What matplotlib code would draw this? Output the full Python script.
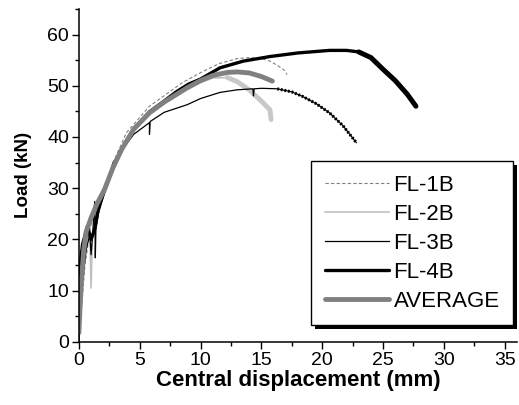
import numpy as np
import matplotlib
matplotlib.use("Agg")
import matplotlib.pyplot as plt
from matplotlib.patches import Rectangle
from matplotlib.transforms import IdentityTransform

plt.rcParams["font.family"] = ["Liberation Sans", "DejaVu Sans"]

# displacement (mm) / load (kN)
fl1b_x = [0, 0.5, 1.0, 1.5, 2.2, 3.0, 3.9, 5.8, 8.5, 10.2, 11.5, 13.0, 14.0, 15.0, 15.7, 16.3, 16.9, 17.1]
fl1b_y = [0, 15, 23, 27, 31, 36, 40.8, 46, 50.6, 52.8, 54.3, 55.3, 55.5, 55.3, 54.8, 54, 53, 52.2]

fl2b_x = [0, 0.3, 0.6, 0.9, 1.0, 1.1, 1.4, 2.0, 2.8, 3.5, 4.5, 5.8, 7.0, 8.9, 10.0, 11.0, 12.2, 13.0, 14.0, 15.0, 15.7, 15.8]
fl2b_y = [0, 12, 19, 22, 10.5, 20, 24, 29, 34, 37.5, 41.5, 44.5, 46.5, 49.3, 50.6, 51.5, 51.6, 50.8, 49.2, 47, 45.3, 43.4]

fl3b_x = [0, 0.3, 0.6, 0.9, 1.0, 1.1, 1.3, 1.35, 1.4, 1.6, 2.2, 2.8, 3.4, 4.5, 5.8, 5.8, 5.85, 7.0,
          8.9, 10.0, 11.6, 13.0, 14.3, 14.35, 14.4, 15.0, 16.3, 17.5, 18.4, 19.5, 20.6, 21.7, 22.8]
fl3b_y = [0, 12, 18, 21, 17, 20, 27.4, 16.4, 22, 25, 30, 35, 37, 40.5, 42.8, 40.5, 43, 44.8,
          46.3, 47.5, 48.7, 49.2, 49.4, 48.0, 49.4, 49.5, 49.4, 48.8, 47.9, 46.5, 44.7, 42.2, 38.9]

fl4b_x = [0, 0.3, 0.7, 1.0, 1.3, 1.6, 2.1, 2.8, 3.5, 4.5, 5.8, 7.0, 8.0, 9.0, 10.0, 11.6, 13.5,
          15.7, 18.0, 20.6, 22.0, 23.0, 24.0, 25.0, 26.0, 27.0, 27.7]
fl4b_y = [13, 19, 22.5, 20, 22, 26, 29.5, 34, 37.5, 41.5, 44.9, 47, 48.8, 50.3, 51.3, 53.5, 54.8,
          55.7, 56.4, 56.9, 56.9, 56.6, 55.5, 53.2, 51, 48.3, 46]

avg_x = [0, 0.1, 0.2, 0.4, 0.6, 1.0, 1.5, 2.1, 2.8, 3.5, 4.5, 5.8, 7.0, 8.9, 10.0, 11.0, 12.2,
         13.0, 14.0, 15.0, 15.9]
avg_y = [1.8, 7, 11.5, 18, 21.5, 24.2, 27, 29.7, 34, 37.5, 41.5, 44.7, 46.8, 49.6, 51, 52, 52.6,
         52.7, 52.5, 51.8, 50.9]

fig = plt.figure(figsize=(5.19, 4.05), dpi=100)
ax = fig.add_axes([0.152, 0.156, 0.844, 0.822])

l1, = ax.plot(fl1b_x, fl1b_y, color="#808080", lw=0.8, ls=(0, (3, 2)), label="FL-1B")
l2, = ax.plot(fl2b_x, fl2b_y, color="#c0c0c0", lw=1.2, label="FL-2B")
ax.plot(fl2b_x[16:], fl2b_y[16:], color="#c8c8c8", lw=3.5, solid_capstyle="round")
l3, = ax.plot(fl3b_x, fl3b_y, color="black", lw=0.9, label="FL-3B")
ax.plot(fl3b_x[26:], fl3b_y[26:], color="black", lw=2.2, ls=(0, (0.6, 0.6)))
l4, = ax.plot(fl4b_x, fl4b_y, color="black", lw=2.4, label="FL-4B",
              solid_capstyle="round", solid_joinstyle="round")
ax.plot(fl4b_x[21:], fl4b_y[21:], color="black", lw=3.6,
        solid_capstyle="round", solid_joinstyle="round")
l5, = ax.plot(avg_x, avg_y, color="#808080", lw=3.5, label="AVERAGE",
              solid_capstyle="round")

ax.set_xlim(0, 36)
ax.set_ylim(0, 65)
ax.set_xticks(np.arange(0, 36, 5))
ax.set_xticks(np.arange(0, 36, 2.5), minor=True)
ax.set_yticks(np.arange(0, 61, 10))
ax.set_yticks(np.arange(0, 66, 5), minor=True)
ax.tick_params(which="major", direction="out", length=5, width=1, labelsize=14, pad=2)
ax.tick_params(which="minor", direction="out", length=3, width=1)
for s in ["top", "right"]:
    ax.spines[s].set_visible(False)
for s in ["left", "bottom"]:
    ax.spines[s].set_linewidth(1.1)

ax.set_xlabel("Central displacement (mm)", fontsize=16, fontweight="bold", labelpad=1)
ax.set_ylabel("Load (kN)", fontsize=13.5, fontweight="bold", labelpad=11)

leg = ax.legend(handles=[l1, l2, l3, l4, l5], loc="lower right",
                bbox_to_anchor=(0.991, 0.051), borderaxespad=0, fontsize=16,
                frameon=True, fancybox=False, edgecolor="black", framealpha=1,
                handlelength=2.9, handletextpad=0.2, labelspacing=0.36,
                borderpad=0.6)
leg.get_frame().set_linewidth(1.0)

# drop shadow of the legend box, offset down-right
fig.canvas.draw()
bb = leg.get_window_extent()
ax.add_patch(Rectangle((bb.x0 + 4, bb.y0 - 4), bb.width, bb.height, transform=IdentityTransform(),
                       facecolor="black", edgecolor="none", zorder=4.9, clip_on=False))

fig.savefig("out.png", dpi=100)
